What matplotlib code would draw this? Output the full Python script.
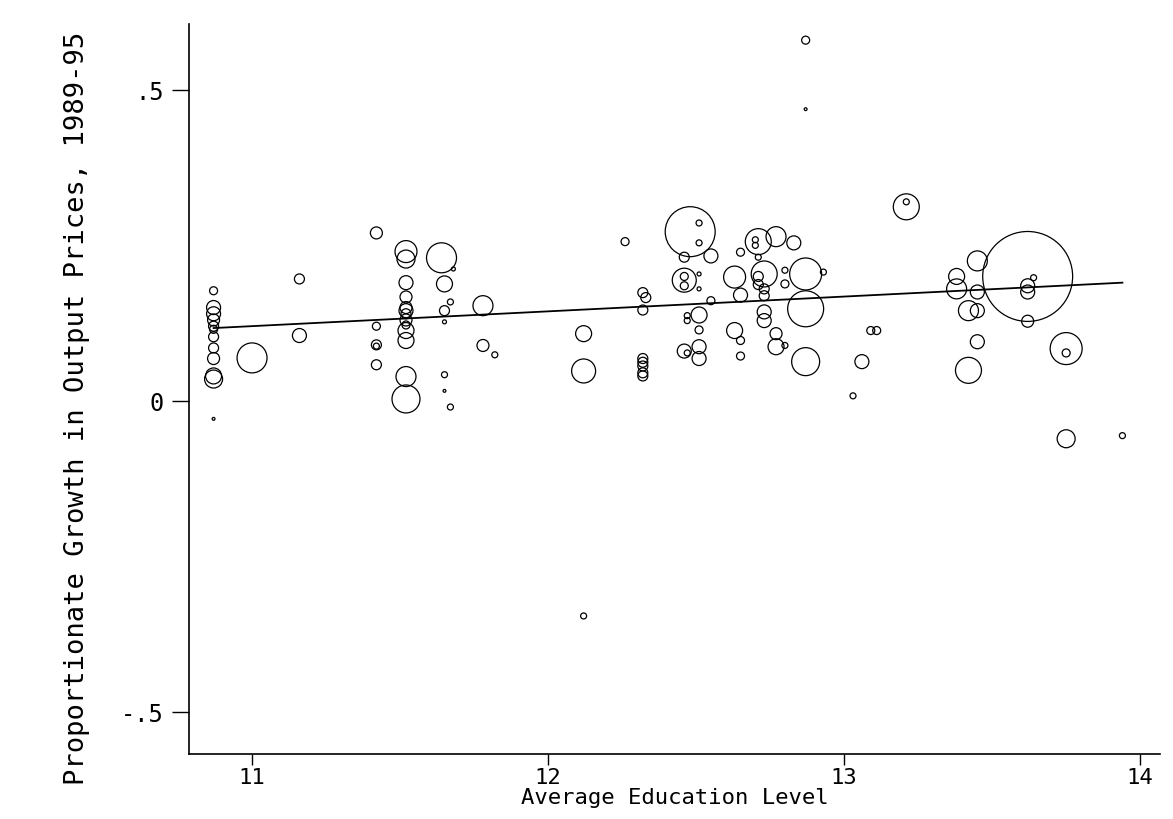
import numpy as np
import matplotlib
matplotlib.use("Agg")
import matplotlib.pyplot as plt

# average education level of each industry
educ = [
    10.87, 10.87, 10.87, 10.87, 10.87, 10.87, 10.87, 10.87, 10.87, 10.87, 10.87, 10.87,
    11.00, 11.16, 11.16,
    11.42, 11.42, 11.42, 11.42, 11.42,
    11.52, 11.52, 11.52, 11.52, 11.52, 11.52, 11.52, 11.52, 11.52, 11.52, 11.52, 11.52, 11.52,
    11.64, 11.68, 11.65, 11.67, 11.65, 11.65, 11.65, 11.65, 11.67,
    11.78, 11.78, 11.82,
    12.12, 12.12, 12.12, 12.26,
    12.32, 12.33, 12.32, 12.32, 12.32, 12.32, 12.32, 12.32,
    12.48, 12.51, 12.51, 12.46, 12.46, 12.46, 12.46, 12.51, 12.51, 12.47, 12.47,
    12.51, 12.51, 12.46, 12.47, 12.51, 12.51,
    12.55, 12.55,
    12.63, 12.65, 12.65, 12.63, 12.65, 12.65,
    12.71, 12.70, 12.70, 12.71, 12.73, 12.71, 12.71, 12.73, 12.73, 12.73, 12.73,
    12.77, 12.77, 12.77, 12.80, 12.80, 12.80, 12.83,
    12.87, 12.87, 12.87, 12.87, 12.87, 12.93,
    13.03, 13.06, 13.09, 13.11,
    13.21, 13.21,
    13.38, 13.38, 13.42, 13.42,
    13.45, 13.45, 13.45, 13.45,
    13.62, 13.64, 13.62, 13.62, 13.62,
    13.75, 13.75, 13.75, 13.94,
]

# proportionate growth in output prices 1989-95
growth = [
    0.177, 0.150, 0.140, 0.130, 0.120, 0.115, 0.103, 0.085, 0.068, 0.040, 0.035, -0.029,
    0.069, 0.196, 0.105,
    0.270, 0.120, 0.090, 0.088, 0.058,
    0.240, 0.228, 0.190, 0.167, 0.150, 0.145, 0.140, 0.130, 0.122, 0.113, 0.097, 0.039, 0.003,
    0.230, 0.212, 0.188, 0.159, 0.145, 0.127, 0.042, 0.016, -0.010,
    0.153, 0.089, 0.074,
    0.108, 0.048, -0.346, 0.256,
    0.174, 0.166, 0.146, 0.068, 0.062, 0.056, 0.045, 0.040,
    0.272, 0.286, 0.254, 0.231, 0.194, 0.200, 0.185, 0.204, 0.180, 0.137, 0.129,
    0.138, 0.114, 0.080, 0.077, 0.087, 0.068,
    0.233, 0.161,
    0.199, 0.239, 0.170, 0.113, 0.097, 0.072,
    0.256, 0.259, 0.250, 0.231, 0.204, 0.200, 0.187, 0.180, 0.169, 0.143, 0.129,
    0.264, 0.108, 0.087, 0.210, 0.188, 0.089, 0.254,
    0.204, 0.148, 0.063, 0.580, 0.469, 0.207,
    0.008, 0.063, 0.113, 0.113,
    0.312, 0.320,
    0.200, 0.180, 0.145, 0.049,
    0.225, 0.175, 0.145, 0.095,
    0.200, 0.198, 0.185, 0.175, 0.128,
    0.084, 0.077, -0.061, -0.056,
]

# industry employment weight (bubble area)
weight = [
    16, 49, 49, 36, 25, 16, 25, 25, 36, 64, 81, 2,
    225, 25, 49,
    36, 16, 25, 9, 25,
    121, 81, 49, 36, 36, 49, 25, 36, 16, 64, 64, 100, 196,
    225, 4, 64, 9, 25, 4, 9, 2, 9,
    100, 36, 9,
    64, 144, 9, 16,
    25, 25, 25, 25, 25, 25, 25, 25,
    625, 9, 9, 25, 144, 16, 16, 4, 4, 9, 9,
    64, 16, 49, 9, 49, 49,
    49, 16,
    121, 16, 49, 64, 16, 16,
    169, 9, 9, 9, 169, 25, 25, 25, 25, 49, 49,
    100, 36, 64, 9, 16, 9, 49,
    256, 324, 196, 16, 2, 9,
    9, 49, 16, 16,
    169, 9,
    64, 100, 100, 169,
    100, 49, 49, 49,
    2025, 9, 49, 49, 36,
    256, 16, 81, 9,
]

# weighted regression line
fit_x = [10.87, 13.94]
fit_y = [0.117, 0.190]

xticks = [11, 12, 13, 14]
yticks = [-0.5, 0, 0.5]
ytick_labels = ["-.5", "0", ".5"]

plt.rcParams["font.family"] = ["DejaVu Sans Mono"]

fig = plt.figure(figsize=(11.73, 8.2), dpi=100)
ax = fig.add_axes([189 / 1173, 65 / 820, 971 / 1173, 730 / 820])

ax.scatter(educ, growth, s=np.array(weight) * 2.07, facecolors="none",
           edgecolors="black", linewidths=0.9, zorder=2)
ax.plot(fit_x, fit_y, color="black", linewidth=1.3, zorder=3)

ax.set_xlim(10.787, 14.067)
ax.set_ylim(-0.568, 0.606)

for side in ["top", "right"]:
    ax.spines[side].set_visible(False)
for side in ["left", "bottom"]:
    ax.spines[side].set_linewidth(1.2)

ax.set_xticks(xticks)
ax.set_xticklabels([str(t) for t in xticks])
ax.set_yticks(yticks)
ax.set_yticklabels(ytick_labels)
ax.tick_params(axis="x", direction="out", length=8, width=1.0, labelsize=16, pad=1.5)
ax.tick_params(axis="y", direction="out", length=12, width=1.0, labelsize=17, pad=6)

ax.set_xlabel("Average Education Level", fontsize=16, labelpad=0)
ax.set_ylabel("Proportionate Growth in Output Prices, 1989-95", fontsize=19.5)
ax.yaxis.set_label_coords(-0.102, 0.475)

fig.savefig("out.png", dpi=100)
